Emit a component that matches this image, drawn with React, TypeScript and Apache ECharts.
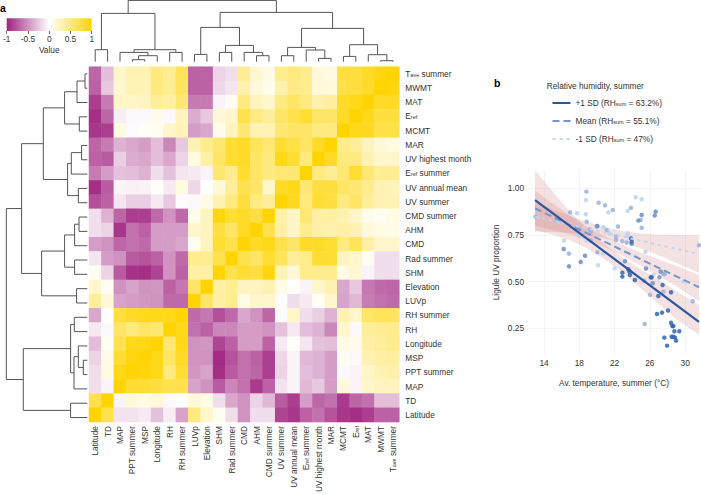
import React, { useEffect, useRef } from "react";
import * as echarts from "echarts";

const FONT = "'Liberation Sans', Arial, sans-serif";

// x-axis order (left to right); rows are the reverse order (top to bottom)
const columns = ["Latitude","TD","MAP","PPT summer","MSP","Longitude","RH","RH summer","LUVp","Elevation","SHM","Rad summer","CMD","AHM","CMD summer","UV summer","UV annual mean","Eref summer","UV highest month","MAR","MCMT","Eref","MAT","MWMT","Tave summer"];
const rows = [...columns].reverse();

const heatValues = [
  [-.7,-.3,.2,.3,.3,.5,.42,.65,-.72,-.72,-.2,-.15,.42,.18,.1,.45,.5,.45,.15,.12,.75,.75,.85,.95,1],
  [-.72,-.25,.18,.3,.27,.5,.42,.62,-.72,-.72,-.18,-.12,.33,.15,.08,.33,.48,.45,.15,.13,.72,.75,.85,1,.95],
  [-.88,-.6,.22,.22,.25,.4,.35,.55,-.6,-.6,-.05,.05,.5,.25,.2,.5,.6,.5,.33,.38,.85,.9,1,.85,.85],
  [-.95,-.7,-.08,-.03,-.03,.07,-.03,.25,-.38,-.25,.15,.2,.7,.5,.4,.6,.7,.8,.6,.6,.85,1,.9,.75,.75],
  [-.92,-.88,.12,-.02,.03,.06,.2,.28,-.45,-.4,.08,.25,.55,.3,.3,.55,.6,.6,.5,.5,1,.9,.88,.72,.72],
  [-.7,-.6,-.35,-.4,-.45,-.3,-.55,-.25,.3,.45,.55,.8,.85,.65,.55,.8,.72,.6,.85,1,.45,.4,.25,.15,.12],
  [-.72,-.75,-.22,-.38,-.4,-.3,-.4,-.2,.12,.35,.6,.8,.85,.6,.5,.9,.8,.5,1,.85,.5,.5,.3,.2,.2],
  [-.6,-.45,-.28,-.3,-.35,-.15,-.28,-.12,-.1,-.05,.55,.45,.82,.6,.5,.55,.55,1,.5,.42,.55,.8,.55,.42,.42],
  [-.95,-.75,-.05,-.07,-.06,.02,-.1,.12,-.18,0,.15,.4,.7,.6,.2,.85,.9,.55,.75,.75,.6,.55,.45,.3,.28],
  [-.8,-.72,-.12,-.22,-.22,-.1,-.25,-.02,-.03,.1,.3,.5,.75,.5,.4,1,.88,.5,.8,.75,.5,.6,.4,.3,.3],
  [-.15,-.35,-.7,-.88,-.88,-.68,-.5,-.68,.08,.25,.95,.8,.85,.75,1,.35,.22,.55,.35,.35,.3,.22,.08,.05,.1],
  [-.15,-.2,-.92,-.65,-.72,-.45,-.45,-.45,.2,.25,.75,.6,.85,1,.7,.35,.22,.45,.35,.33,.35,.3,.15,.1,.1],
  [-.45,-.5,-.7,-.65,-.68,-.45,-.45,-.4,.05,.25,.8,.7,1,.85,.9,.7,.6,.85,.85,.8,.5,.65,.35,.2,.2],
  [-.12,-.45,-.5,-.75,-.78,-.72,-.5,-.68,.45,.42,.7,1,.7,.6,.8,.65,.4,.45,.8,.8,.25,.2,.05,-.15,-.15],
  [.05,-.2,-.75,-.93,-.95,-.85,-.5,-.72,.35,.35,1,.7,.8,.75,.95,.3,.15,.45,.45,.45,.1,.18,-.05,-.15,-.15],
  [.2,.05,-.5,-.42,-.5,-.48,-.72,-.62,.6,1,.35,.42,.25,.25,.3,.1,.02,-.05,.2,.3,-.4,-.25,-.62,-.68,-.7],
  [.4,.15,-.42,-.45,-.48,-.5,-.68,-.68,1,.6,.35,.45,.1,.2,.2,-.02,-.15,-.1,.03,.2,-.42,-.32,-.6,-.65,-.68],
  [-.4,0,.75,.85,.9,.9,.9,1,-.68,-.62,-.8,-.68,-.4,-.5,-.7,-.02,.2,-.15,-.22,-.35,.3,.2,.6,.65,.62],
  [-.1,-.03,.6,.5,.6,.55,1,.9,-.65,-.72,-.55,-.55,-.45,-.45,-.5,-.28,-.1,-.3,-.35,-.55,.2,-.03,.4,.42,.45],
  [-.3,.05,.7,.9,.92,1,.55,.9,-.5,-.48,-.85,-.72,-.45,-.45,-.72,-.1,.02,-.12,-.28,-.3,.1,.08,.35,.4,.45],
  [-.2,.1,.8,.95,1,.9,.6,.85,-.5,-.5,-.97,-.78,-.65,-.72,-.88,-.18,-.05,-.32,-.35,-.45,.05,-.03,.3,.35,.38],
  [-.15,.12,.9,1,.95,.9,.5,.8,-.48,-.42,-.95,-.75,-.65,-.7,-.88,-.2,-.05,-.3,-.35,-.45,-.03,-.05,.22,.3,.33],
  [-.15,-.05,1,.8,.8,.75,.7,.7,-.42,-.5,-.75,-.55,-.65,-.9,-.72,-.13,-.05,-.32,-.25,-.45,.15,-.05,.2,.25,.25],
  [.7,1,-.05,.15,.1,.15,-.03,0,.15,.1,-.15,-.4,-.5,-.2,-.33,-.75,-.88,-.45,-.7,-.65,-.9,-.7,-.65,-.3,-.3],
  [1,.7,-.13,-.13,-.1,-.28,-.08,-.42,.5,.2,.05,-.15,-.5,-.15,-.15,-.85,-.92,-.72,-.65,-.78,-.92,-.95,-.88,-.72,-.72],
];
const heatColors = ["#A02480", "#FFFFFF", "#FFD400"];
const colorbarTicks = [-1, 1];

// dendrograms: [childA, childB, height]; child < 100 is a leaf, child >= 100 is merge (child - 100)
const topMerges = [
  [0,1,12],[3,4,2],[101,5,6],[2,102,9.3],[6,7,9.3],[103,104,12],[100,105,48.3],
  [8,9,7.3],[10,11,9.3],[13,14,6],[12,109,9.3],[108,110,16.3],[107,111,34.3],
  [15,16,6],[18,19,3.3],[17,114,11.7],[113,115,14.3],[20,21,5.3],[23,24,1],[22,118,7],
  [117,119,17],[116,120,33.3],[112,121,49.3],[106,122,61.3],
];
const leftMerges = [
  [0,1,2.3],[100,2,10.3],[3,4,8],[101,102,22.7],[5,6,5.7],[104,7,16],[8,9,9],[105,106,19.7],[103,107,44],
  [10,11,8.3],[109,12,12.7],[13,14,12.7],[110,111,22.7],[15,16,10.7],[112,113,45.7],[108,114,65.7],
  [17,18,13],[20,21,4],[19,117,9],[118,22,13.3],[116,119,16.7],[23,24,16.7],[120,121,64],[115,122,81],
];

// scatter: [temperature, UV proportion], grouped by humidity tone
const pointsDark = [[23.86,.732],[23.94,.714],[22.88,.548],[22.88,.527],[23.56,.566],[23.67,.554],[23.75,.536],[24.3,.509],[26.1,.523],[26.2,.523],[27.45,.482],[26.96,.423],[28.4,.443],[26.81,.327],[27.38,.334],[28.06,.345],[28.4,.28],[28.55,.2625],[28.66,.2625],[28.78,.234],[29.34,.234],[27.64,.2],[28.47,.205],[28.66,.205],[28.85,.2],[28.97,.184],[27.95,.157]];
const pointsMidDark = [[25.07,.857],[24.7,.827],[26.66,.875],[26.55,.854],[16.23,.675],[16.83,.582],[18.16,.605],[18.65,.639],[23.94,.702],[23.18,.609],[25.56,.57],[26.32,.491],[27.08,.523],[27.23,.554],[20.05,.798]];
const pointsMid = [[18.8,.982],[20.2,.923],[20.92,.909],[21.79,.884],[23.86,.895],[16.95,.871],[24.96,.83],[25.07,.789],[13.05,.848],[15.44,.827],[18.84,.821],[17.63,.78],[18.0,.78],[19.2,.78],[19.97,.795],[19.33,.768],[21.1,.777],[22.39,.795],[22.16,.741],[22.16,.723],[22.88,.716],[23.37,.709],[16.83,.65],[20.05,.657],[25.34,.505],[27.53,.541],[27.68,.541],[26.02,.429],[27.53,.446],[30.86,.395],[31.57,.695],[25.41,.273],[19.3,.72]];
const pointsLight = [[18.76,.9375],[18.72,.861],[21.3,.871],[24.4,.952],[25.07,.941],[23.49,.879],[17.74,.866],[13.28,.846],[15.63,.821],[20.73,.791],[21.4,.759],[23.49,.759],[23.45,.746],[16.27,.72],[18.84,.72],[20.73,.652],[20.12,.5875],[22.0,.571],[25.5,.66],[26.4,.536],[29.8,.5],[17.9,.75]];

const lineHigh = [[12.98,.937],[31.57,.285]];
const lineMean = [[12.98,.893],[31.57,.47]];
const lineLow = [[12.98,.848],[31.57,.648]];

const bandX = [12.98,15,17,19,21,23,25,27,29,31.57];
const bandHighUpper = [1.096,.981,.871,.776,.695,.625,.565,.51,.449,.375];
const bandHighLower = [.776,.751,.721,.676,.615,.545,.465,.38,.299,.215];
const bandMeanUpper = [.988,.917,.852,.791,.741,.696,.655,.62,.585,.535];
const bandMeanLower = [.798,.777,.752,.721,.681,.636,.585,.53,.475,.395];
const bandLowUpper = [.928,.886,.85,.818,.791,.77,.758,.751,.75,.748];
const bandLowLower = [.768,.766,.76,.748,.731,.71,.678,.641,.6,.548];

const xTicks = [14,18,22,26,30];
const yTicks = [.25,.5,.75,1];
const legendLabels: Record<string,string> = {
  "+1 SD": "+1 SD (RH{s|sum} = 63.2%)",
  "Mean": "Mean (RH{s|sum} = 55.1%)",
  "-1 SD": "-1 SD (RH{s|sum} = 47%)",
};

const subRich = { s: { fontSize: 5.5, fontFamily: FONT, color: "#333", verticalAlign: "bottom", lineHeight: 8 } };

function subLabel(v: string) {
  return v.replace("Tave", "T{s|ave}").replace("Eref", "E{s|ref}");
}

// turns merges into 4-point brackets, in (leaf position, height) space
function brackets(merges: number[][]) {
  const pos: number[] = [];
  const ht: number[] = [];
  const get = (c: number) => (c >= 100 ? [pos[c - 100], ht[c - 100]] : [c + 0.5, 0]);
  return merges.map((m, i) => {
    const a = get(m[0]);
    const b = get(m[1]);
    pos[i] = (a[0] + b[0]) / 2;
    ht[i] = m[2];
    return [a[0], a[1], a[0], m[2], b[0], m[2], b[0], b[1]];
  });
}

function dendroSeries(merges: number[][], gridIndex: number, horizontal: boolean) {
  const data = brackets(merges);
  return {
    type: "custom",
    xAxisIndex: gridIndex,
    yAxisIndex: gridIndex,
    silent: true,
    clip: false,
    encode: { x: [0], y: [1] },
    data,
    renderItem: (_p: any, api: any) => {
      const pts: number[][] = [];
      for (let k = 0; k < 4; k++) {
        const a = api.value(k * 2);
        const b = api.value(k * 2 + 1);
        pts.push(api.coord(horizontal ? [b, a] : [a, b]));
      }
      return {
        type: "polyline",
        shape: { points: pts },
        style: { fill: "none", stroke: "#555", lineWidth: 1 },
      };
    },
  };
}

function bandSeries(upper: number[], lower: number[]) {
  return {
    type: "custom",
    xAxisIndex: 4,
    yAxisIndex: 4,
    silent: true,
    encode: { x: [0], y: [1] },
    data: [[bandX[0], upper[0]]],
    renderItem: (_p: any, api: any) => {
      const pts = [
        ...bandX.map((x, i) => api.coord([x, upper[i]])),
        ...bandX.map((x, i) => api.coord([x, lower[i]])).reverse(),
      ];
      return { type: "polygon", shape: { points: pts }, style: { fill: "#d68a8a", opacity: 0.26 } };
    },
  };
}

function pointSeries(name: string, data: number[][], color: string) {
  return {
    name,
    type: "scatter",
    xAxisIndex: 4,
    yAxisIndex: 4,
    data,
    symbolSize: 4.5,
    silent: true,
    itemStyle: { color, opacity: 0.85 },
  };
}

function lineSeries(name: string, data: number[][], color: string, type: any, width: number) {
  return {
    name,
    type: "line",
    xAxisIndex: 4,
    yAxisIndex: 4,
    data,
    symbol: "none",
    silent: true,
    lineStyle: { color, type, width },
    itemStyle: { color },
  };
}

const hiddenAxis = (gridIndex: number, min: number, max: number, inverse = false) => ({
  type: "value", gridIndex, min, max, inverse, show: false,
});

export default function App() {
  const ref = useRef<HTMLDivElement>(null);
  useEffect(() => {
    document.body.style.margin = "0";
    const chart = echarts.init(ref.current!, null, { renderer: "svg" });
    const heatData: number[][] = [];
    heatValues.forEach((r, y) => r.forEach((v, x) => heatData.push([x, y, v])));
    const labelBase = { fontSize: 8.3, fontFamily: FONT, color: "#333" };
    chart.setOption({
      animation: false,
      backgroundColor: "#fff",
      textStyle: { fontFamily: FONT },
      grid: [
        { left: 89, top: 66.7, width: 310.3, height: 358 },
        { left: 89, top: 0, width: 310.3, height: 61.7 },
        { left: 0, top: 66.7, width: 87.3, height: 358 },
        { left: 5, top: 18.3, width: 86.7, height: 12.7 },
        { left: 527, top: 170, width: 174, height: 185 },
      ],
      xAxis: [
        {
          type: "category", gridIndex: 0, data: columns, position: "bottom",
          axisLine: { show: false }, axisTick: { show: false }, splitLine: { show: false },
          axisLabel: { ...labelBase, rotate: 90, margin: 4, interval: 0, rich: { s: subRich.s }, formatter: subLabel },
        },
        hiddenAxis(1, 0, 25),
        hiddenAxis(2, 0, 87.3, true),
        {
          type: "value", gridIndex: 3, min: colorbarTicks[0], max: colorbarTicks[1], interval: 0.5, position: "bottom",
          name: "Value", nameLocation: "middle", nameGap: 15, nameTextStyle: { fontSize: 8.3, fontFamily: FONT, color: "#333" },
          axisLine: { show: false }, axisTick: { show: true, length: 3, lineStyle: { color: "#333", width: 0.7 } }, splitLine: { show: false },
          axisLabel: { ...labelBase, margin: 4, showMinLabel: true, showMaxLabel: true },
        },
        {
          type: "value", gridIndex: 4, min: 12.07, max: 31.8, position: "bottom",
          name: "Av. temperature, summer (°C)", nameLocation: "middle", nameGap: 24,
          nameTextStyle: { fontSize: 8.3, fontFamily: FONT, color: "#333" },
          axisLine: { show: false },
          axisTick: { show: false, customValues: xTicks },
          splitLine: { show: true, lineStyle: { color: "#efefef", width: 0.7 } },
          axisLabel: { ...labelBase, margin: 4, customValues: xTicks, showMinLabel: true, showMaxLabel: true, hideOverlap: false },
        },
      ],
      yAxis: [
        {
          type: "category", gridIndex: 0, data: rows, inverse: true, position: "right",
          axisLine: { show: false }, axisTick: { show: false }, splitLine: { show: false },
          axisLabel: { ...labelBase, margin: 6, interval: 0, rich: { s: subRich.s }, formatter: subLabel },
        },
        hiddenAxis(1, 0, 61.7),
        hiddenAxis(2, 0, 25, true),
        hiddenAxis(3, 0, 1),
        {
          type: "value", gridIndex: 4, min: 0.107, max: 1.098, position: "left",
          name: "Ligule UV proportion", nameLocation: "middle", nameGap: 27,
          nameTextStyle: { fontSize: 8.3, fontFamily: FONT, color: "#333" },
          axisLine: { show: false },
          axisTick: { show: false, customValues: yTicks },
          splitLine: { show: true, lineStyle: { color: "#efefef", width: 0.7 } },
          axisLabel: { ...labelBase, margin: 3, customValues: yTicks, formatter: (v: number) => v.toFixed(2), showMinLabel: true, showMaxLabel: true },
        },
      ],
      visualMap: {
        type: "continuous", show: false, min: -1, max: 1, seriesIndex: 0, inRange: { color: heatColors },
      },
      legend: {
        show: true, orient: "vertical", left: 551.5, top: 99, padding: 0, itemWidth: 18, itemHeight: 10, itemGap: 10,
        data: ["+1 SD", "Mean", "-1 SD"],
        selectedMode: false,
        itemStyle: { opacity: 0, color: "transparent", borderWidth: 0 },
        formatter: (n: string) => legendLabels[n],
        textStyle: { fontSize: 8.3, fontFamily: FONT, color: "#333", rich: { s: subRich.s } },
      },
      graphic: [
        { type: "text", x: 0, y: 2, style: { text: "a", fontSize: 10.5, fontWeight: "bold", fontFamily: FONT, fill: "#000" } },
        { type: "text", x: 494, y: 77, style: { text: "b", fontSize: 10.5, fontWeight: "bold", fontFamily: FONT, fill: "#000" } },
        { type: "text", x: 546.7, y: 81.5, style: { text: "Relative humidity, summer", fontSize: 8.3, fontFamily: FONT, fill: "#333" } },
      ],
      series: [
        {
          type: "heatmap", xAxisIndex: 0, yAxisIndex: 0, data: heatData, silent: true, progressive: 0,
          itemStyle: { borderWidth: 0 }, emphasis: { disabled: true },
        },
        dendroSeries(topMerges, 1, false),
        dendroSeries(leftMerges, 2, true),
        {
          type: "custom", xAxisIndex: 3, yAxisIndex: 3, silent: true, encode: { x: [0], y: [1] },
          data: [[colorbarTicks[0], 0]],
          renderItem: (_p: any, api: any) => {
            const a = api.coord([colorbarTicks[0], 1]);
            const b = api.coord([colorbarTicks[1], 0]);
            return {
              type: "rect",
              shape: { x: a[0], y: a[1], width: b[0] - a[0], height: b[1] - a[1] },
              style: {
                fill: new echarts.graphic.LinearGradient(0, 0, 1, 0, [
                  { offset: 0, color: heatColors[0] },
                  { offset: 0.5, color: heatColors[1] },
                  { offset: 1, color: heatColors[2] },
                ]),
              },
            };
          },
        },
        bandSeries(bandHighUpper, bandHighLower),
        bandSeries(bandMeanUpper, bandMeanLower),
        bandSeries(bandLowUpper, bandLowLower),
        pointSeries("light", pointsLight, "#bcd3f0"),
        pointSeries("mid", pointsMid, "#9ab0da"),
        pointSeries("midDark", pointsMidDark, "#6c8cc6"),
        pointSeries("dark", pointsDark, "#3468b0"),
        lineSeries("-1 SD", lineLow, "#bdd6f3", [3, 4], 2),
        lineSeries("Mean", lineMean, "#7396d3", [7, 4], 2),
        lineSeries("+1 SD", lineHigh, "#2b56a3", "solid", 2.2),
      ],
    });
    return () => chart.dispose();
  }, []);
  return <div ref={ref} style={{ position: "absolute", left: 0, top: 0, width: 701, height: 495 }} />;
}
